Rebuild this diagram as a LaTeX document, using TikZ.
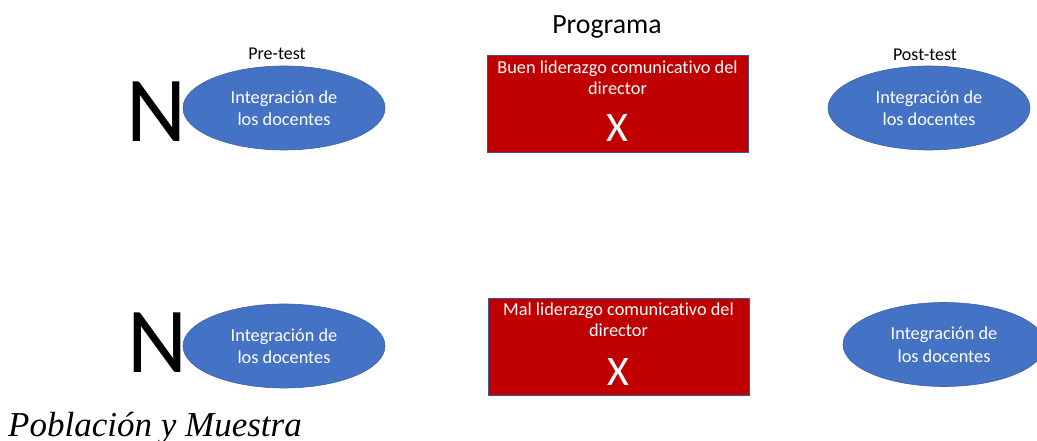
\documentclass[tikz,border=0pt]{standalone}
\usepackage{fontspec}
\setmainfont{Carlito}[RawFeature=-liga]
\newfontfamily\timesfont{Liberation Serif}
\usetikzlibrary{shapes.geometric}
\definecolor{ellblue}{HTML}{4472C4}
\definecolor{ellborder}{HTML}{41639F}
\definecolor{boxred}{HTML}{C00000}
\definecolor{boxborder}{HTML}{3F5597}
\tikzset{
  ell/.style={ellipse, fill=ellblue, draw=ellborder, line width=0.6pt, minimum width=202pt, minimum height=84pt, inner sep=0pt, text=white, align=center, font=\fontsize{18.3}{22.5}\selectfont},
  prog/.style={rectangle, fill=boxred, draw=boxborder, line width=0.8pt, minimum width=261pt, minimum height=97pt, inner sep=0pt},
  boxtext/.style={text=white, align=center, font=\fontsize{18.3}{21}\selectfont, inner sep=0pt},
  bigx/.style={text=white, font=\fontsize{42}{42}\selectfont, inner sep=0pt},
  bign/.style={font=\fontsize{93}{93}\selectfont, inner sep=0pt},
  lbl/.style={font=\fontsize{18}{18}\selectfont, inner sep=0pt}
}
\begin{document}
\begin{tikzpicture}[x=1pt,y=1pt]
\useasboundingbox (0,0) rectangle (1037,441);
\clip (0,0) rectangle (1037,441);
% top row
\node[lbl] (pretest) at (277,387) {Pre-test};
\node[lbl] (posttest) at (925,386) {Post-test};
\node[font=\fontsize{27.8}{27.8}\selectfont, inner sep=0pt] (programa) at (607,414) {Programa};
\node[bign] (n1) at (157,329) {N};
\node[ell] (e1) at (284,333) {Integración de\\los docentes};
\node[prog] (b1) at (617.5,337) {};
\node[boxtext] (t1) at (617.5,363.5) {Buen liderazgo comunicativo del\\director};
\node[bigx] (x1) at (617.5,313) {X};
\node[ell] (e2) at (929,333) {Integración de\\los docentes};
% bottom row
\node[bign] (n2) at (158,98) {N};
\node[ell] (e3) at (284,95) {Integración de\\los docentes};
\node[prog] (b2) at (618.5,94) {};
\node[boxtext] (t2) at (618.5,121.5) {Mal liderazgo comunicativo del\\director};
\node[bigx] (x2) at (618.5,69) {X};
\node[ell] (e4) at (944,96.5) {Integración de\\los docentes};
% caption
\node[anchor=base west, inner sep=0pt, font=\timesfont\itshape\fontsize{35}{35}\selectfont] (cap) at (8,4) {Población y Muestra};
\end{tikzpicture}
\end{document}
